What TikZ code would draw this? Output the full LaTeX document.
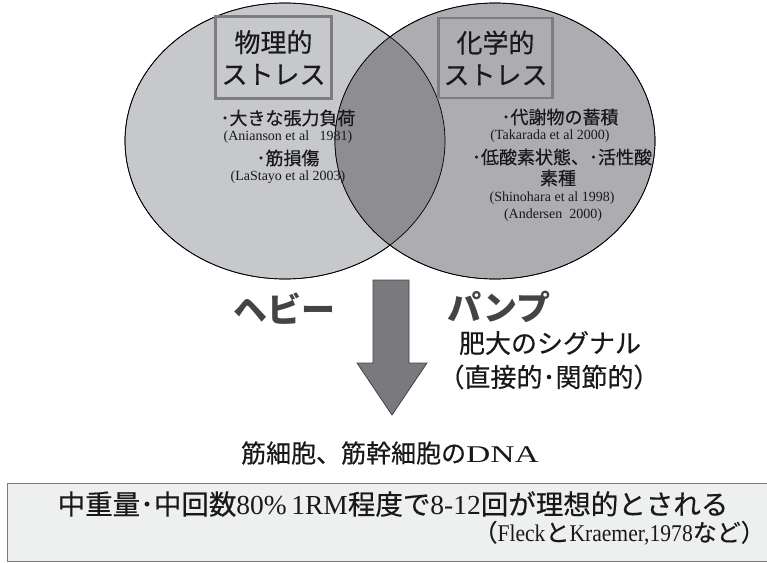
\documentclass[tikz,border=0pt]{standalone}
\usepackage{fontspec}
\usepackage{graphicx}
\setmainfont{Liberation Serif}
\newfontfamily\jp[FakeBold=0.45]{Noto Sans CJK JP}
\newfontfamily\jpbig{Noto Sans CJK JP}
\newfontfamily\lat{Liberation Serif}
\usetikzlibrary{shapes.geometric}
\definecolor{lfill}{RGB}{199,200,204}
\definecolor{rfill}{RGB}{173,173,177}
\definecolor{ofill}{RGB}{142,142,146}
\definecolor{boxline}{RGB}{125,125,128}
\definecolor{arrowfill}{RGB}{122,122,126}
\definecolor{txt}{RGB}{25,25,25}
\definecolor{bigtxt}{RGB}{68,68,70}
\definecolor{bottomfill}{RGB}{238,239,239}
\tikzset{
  venn/.style={ellipse, draw=black, line width=0.7pt, minimum width=320pt, minimum height=276pt, inner sep=0pt},
  titlebox/.style={draw=boxline, line width=2.6pt, align=center, font=\jp\fontsize{26}{32}\selectfont, text=txt, inner sep=0pt},
  jpitem/.style={font=\jp\fontsize{18}{20}\selectfont, text=txt, inner sep=0pt},
  ref/.style={font=\lat\fontsize{14}{16}\selectfont, text=txt, inner sep=0pt},
  bigword/.style={font=\jpbig\bfseries\fontsize{34}{38}\selectfont, text=bigtxt, inner sep=0pt},
  midtext/.style={font=\jp\fontsize{26}{30}\selectfont, text=txt, inner sep=0pt},
}
\begin{document}
\begin{tikzpicture}[x=1pt,y=-1pt]
\useasboundingbox (0,0) rectangle (767,562);
% Venn
\node[venn, fill=lfill] (L) at (285,141) {};
\node[venn, fill=rfill] (R) at (495,141) {};
\begin{scope}
  \clip (285,141) ellipse [x radius=160, y radius=138];
  \fill[ofill] (495,141) ellipse [x radius=160, y radius=138];
\end{scope}
\draw[line width=0.7pt] (285,141) ellipse [x radius=160, y radius=138];
\draw[line width=0.7pt] (495,141) ellipse [x radius=160, y radius=138];
% title boxes
\node[titlebox, minimum width=116pt, minimum height=82pt] (phys) at (273.5,57.5) {物理的\\ストレス};
\node[titlebox, minimum width=114pt, minimum height=80pt] (chem) at (495.5,58) {化学的\\ストレス};
% left items
\node[jpitem] (l1) at (288,118) {･大きな張力負荷};
\node[ref] (l2) at (288,137) {(Anianson et al\ \ \ 1981)};
\node[jpitem] (l3) at (288,158) {･筋損傷};
\node[ref] (l4) at (288,177) {(LaStayo et al 2003)};
% right items
\node[jpitem] (r1) at (560,117) {･代謝物の蓄積};
\node[ref] (r2) at (550,136) {(Takarada et al 2000)};
\node[jpitem] (r3) at (562,157) {･低酸素状態、･活性酸};
\node[jpitem] (r4) at (558,178) {素種};
\node[ref] (r5) at (552,198) {(Shinohara et al 1998)};
\node[ref] (r6) at (553,215) {(Andersen\ \ 2000)};
% arrow
\coordinate (atip) at (392,415);
\filldraw[fill=arrowfill, draw=bigtxt, line width=0.8pt]
  (373,280) -- (409,280) -- (409,363) -- (427,363) -- (atip) -- (357,363) -- (373,363) -- cycle;
% side words
\node[bigword] (heavy) at (284,309) {ヘビー};
\node[bigword] (pump) at (499,307) {パンプ};
\node[midtext] (sig) at (550,343) {肥大のシグナル};
\node[midtext] (kind) at (549,377) {（直接的･関節的）};
% DNA
\node[inner sep=0pt, text=txt] (dna) at (390,453) {\jp\fontsize{25}{28}\selectfont 筋細胞、筋幹細胞の{\lat\scalebox{1.4}[1]{\fontsize{24}{28}\selectfont DNA}}};
% bottom box
\node[draw=boxline, fill=bottomfill, line width=1.3pt, minimum width=775pt, minimum height=78pt, inner sep=0pt, anchor=north west] (bottom) at (7,483) {};
\node[inner sep=0pt, text=txt] (b1) at (393,504) {\jp\fontsize{27.5}{30}\selectfont 中重量･中回数{\lat 80\%\,1RM}程度で{\lat 8-12}回が理想的とされる};
\node[inner sep=0pt, text=txt, anchor=east] (b2) at (765,533) {\jp\fontsize{24}{28}\selectfont （{\lat\scalebox{0.9}[1]{Fleck}}と{\lat\scalebox{0.9}[1]{Kraemer,1978}}など）};
\end{tikzpicture}
\end{document}
